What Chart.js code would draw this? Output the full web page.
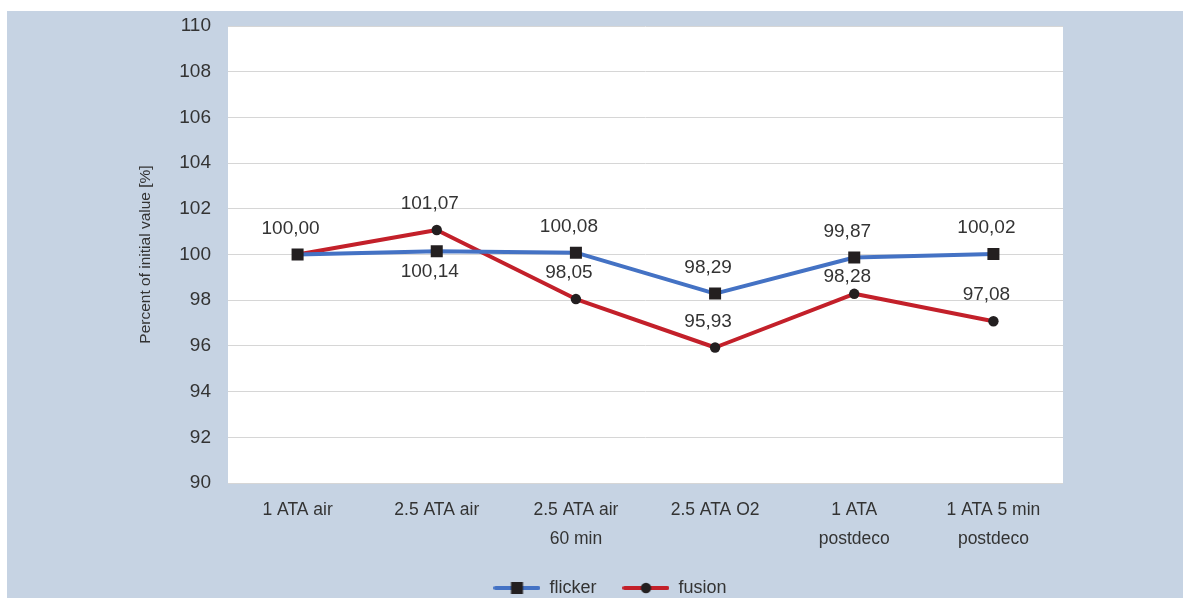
<!DOCTYPE html>
<html>
<head>
<meta charset="utf-8">
<script src="https://cdn.jsdelivr.net/npm/chart.js@4"></script>
<style>
  html, body { margin: 0; padding: 0; background: #ffffff; }
  #wrap { position: absolute; left: 7px; top: 11px; width: 1176px; height: 587px; background: #c6d3e3; }
  canvas { display: block; }
</style>
</head>
<body>
<div id="wrap"><canvas id="c" width="1176" height="587"></canvas></div>
<script>
const categories = ['1 ATA air', '2.5 ATA air', ['2.5 ATA air', '60 min'], '2.5 ATA O2', ['1 ATA', 'postdeco'], ['1 ATA 5 min', 'postdeco']];
const flicker = [100.00, 100.14, 100.08, 98.29, 99.87, 100.02];
const fusion = [100.00, 101.07, 98.05, 95.93, 98.28, 97.08];
const flickerLabelPos = ['above', 'below', 'above', 'above', 'above', 'above'];
const fusionLabelPos = [null, 'above', 'above', 'above', 'near', 'above'];
const seriesNames = ['flicker', 'fusion'];
const yTitle = 'Percent of initial value [%]';
const yMin = 90, yMax = 110, yStep = 2;

const BLUE = '#4472c4';
const RED = '#c3202a';
const MARK = '#231f20';
const TEXT = '#333333';
const FONT = "'Liberation Sans', Arial, sans-serif";
const LABEL_DY = { above: -26, near: -17, below: 20 };

function legendIcon(color, style) {
  const cv = document.createElement('canvas');
  cv.width = 47; cv.height = 14;
  const g = cv.getContext('2d');
  g.strokeStyle = color; g.lineWidth = 4; g.lineCap = 'round';
  g.beginPath(); g.moveTo(2, 7); g.lineTo(45, 7); g.stroke();
  g.fillStyle = MARK;
  if (style === 'rect') { g.fillRect(23.5 - 6, 1, 12, 12); }
  else { g.beginPath(); g.arc(23.5, 7, 5.2, 0, Math.PI * 2); g.fill(); }
  return cv;
}
const icons = [legendIcon(BLUE, 'rect'), legendIcon(RED, 'circle')];

const plotBg = {
  id: 'plotBg',
  beforeDraw(chart) {
    const {ctx, chartArea: a} = chart;
    ctx.save(); ctx.fillStyle = '#ffffff';
    ctx.fillRect(a.left, a.top, a.right - a.left, a.bottom - a.top);
    ctx.restore();
  }
};

const valueLabels = {
  id: 'valueLabels',
  afterDatasetsDraw(chart) {
    const ctx = chart.ctx;
    const posSets = [flickerLabelPos, fusionLabelPos];
    ctx.save();
    ctx.font = "19px " + FONT;
    ctx.fillStyle = TEXT;
    ctx.textAlign = 'center';
    ctx.textBaseline = 'middle';
    chart.data.datasets.forEach((ds, di) => {
      const meta = chart.getDatasetMeta(di);
      meta.data.forEach((pt, i) => {
        const pos = posSets[di][i];
        if (!pos) return;
        const txt = ds.data[i].toFixed(2).replace('.', ',');
        ctx.fillText(txt, pt.x - 7, pt.y + LABEL_DY[pos]);
      });
    });
    ctx.restore();
  }
};

new Chart(document.getElementById('c'), {
  type: 'line',
  data: {
    labels: categories,
    datasets: [
      { label: seriesNames[0], data: flicker, borderColor: BLUE, backgroundColor: MARK, borderWidth: 4,
        pointStyle: 'rect', pointRadius: 8.5, pointBackgroundColor: MARK, pointBorderColor: MARK, pointBorderWidth: 0,
        borderJoinStyle: 'round', borderCapStyle: 'round', tension: 0 },
      { label: seriesNames[1], data: fusion, borderColor: RED, backgroundColor: MARK, borderWidth: 4,
        pointStyle: 'circle', pointRadius: 5.2, pointBackgroundColor: MARK, pointBorderColor: MARK, pointBorderWidth: 0,
        borderJoinStyle: 'round', borderCapStyle: 'round', tension: 0 }
    ]
  },
  options: {
    responsive: false,
    animation: false,
    layout: { padding: { left: 150, right: 120, top: 15, bottom: 0 } },
    plugins: {
      tooltip: { enabled: false },
      legend: {
        position: 'bottom',
        maxHeight: 45,
        labels: {
          usePointStyle: true,
          pointStyleWidth: 47,
          padding: 26,
          color: TEXT,
          font: { family: FONT, size: 18 },
          generateLabels(chart) {
            return chart.data.datasets.map((ds, i) => ({
              text: ds.label, pointStyle: icons[i], fillStyle: MARK, strokeStyle: MARK,
              lineWidth: 0, datasetIndex: i, hidden: false, fontColor: TEXT
            }));
          }
        }
      }
    },
    scales: {
      x: {
        offset: true,
        grid: { display: false, drawTicks: false },
        border: { display: false },
        ticks: { color: TEXT, padding: 13, maxRotation: 0, autoSkip: false,
          font: { family: FONT, size: 17.5, lineHeight: 1.64 } },
        afterFit(s) { s.height = 70; }
      },
      y: {
        min: yMin, max: yMax,
        grid: { color: '#d6d6d6', lineWidth: 1, drawTicks: false },
        border: { display: false },
        ticks: { stepSize: yStep, color: TEXT, padding: 17, font: { family: FONT, size: 19 } },
        title: { display: true, text: yTitle, color: TEXT, padding: { top: -21, bottom: 0 },
          font: { family: FONT, size: 15.5, lineHeight: 1.2 } },
        afterFit(s) { s.width = 71; s.paddingTop = 0; s.paddingBottom = 0; }
      }
    }
  },
  plugins: [plotBg, valueLabels]
});
</script>
</body>
</html>
